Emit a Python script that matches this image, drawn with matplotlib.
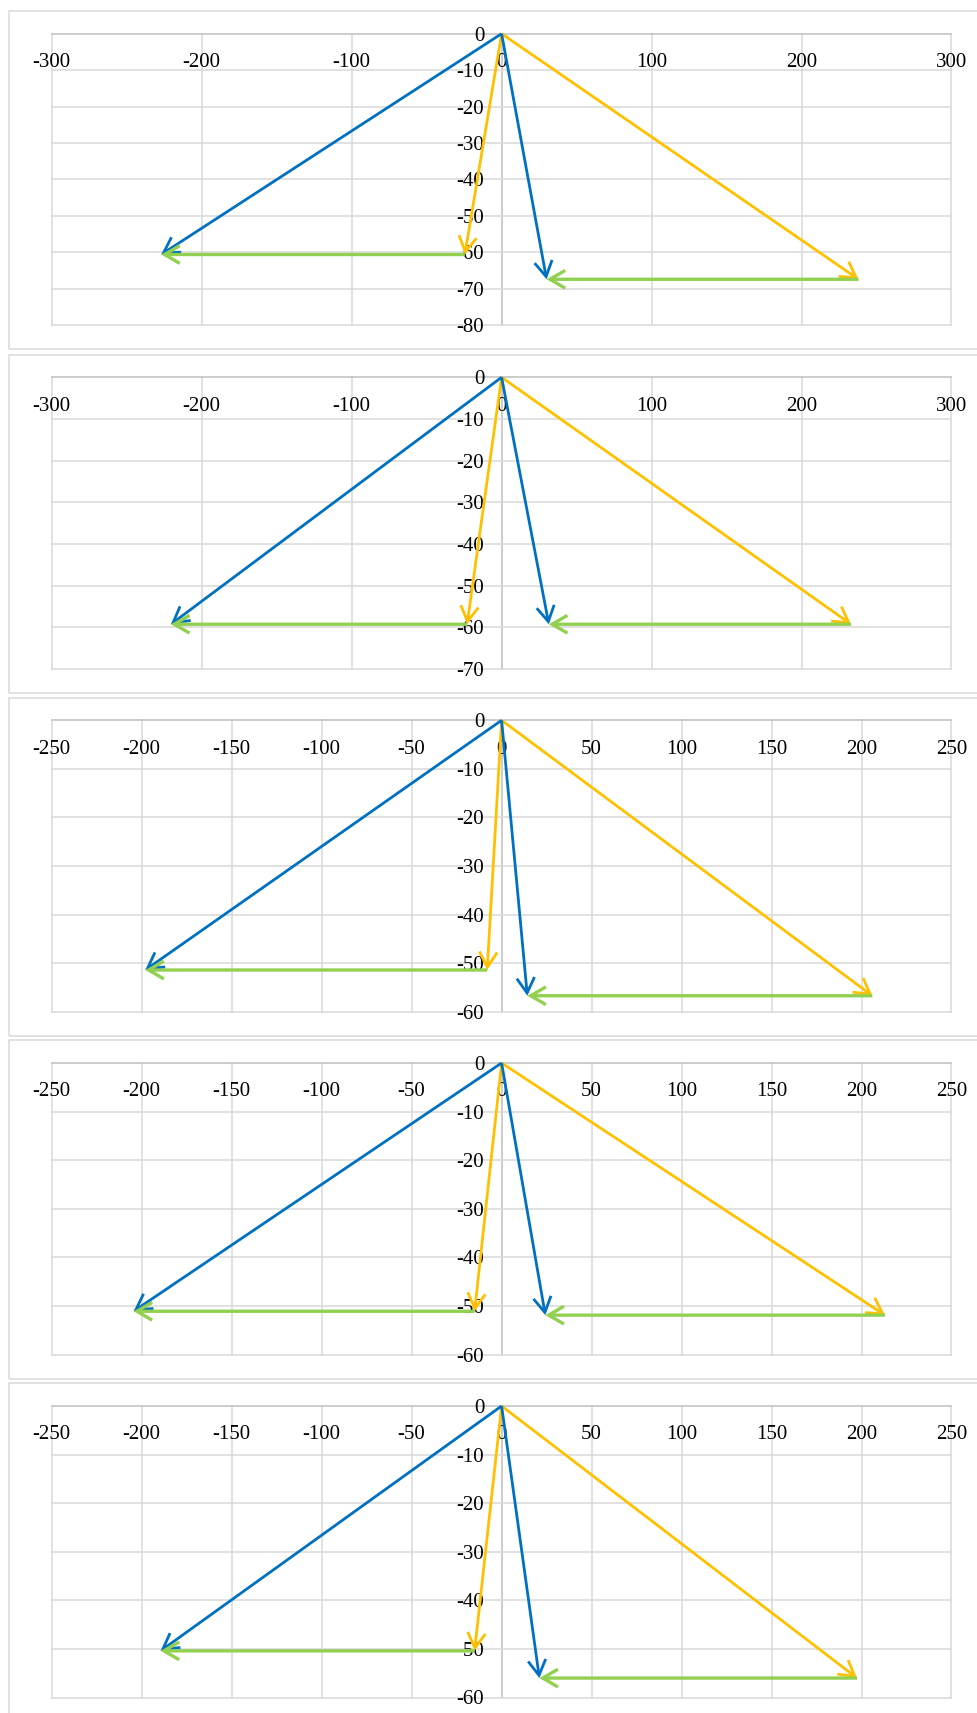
import matplotlib
matplotlib.use("Agg")
import matplotlib.pyplot as plt
from matplotlib.patches import Rectangle

# ---------------- data ----------------
xticks_a = [-300, -200, -100, 0, 100, 200, 300]
xticks_b = [-250, -200, -150, -100, -50, 0, 50, 100, 150, 200, 250]
yticks_1 = [0, -10, -20, -30, -40, -50, -60, -70, -80]
yticks_2 = [0, -10, -20, -30, -40, -50, -60, -70]
yticks_3 = [0, -10, -20, -30, -40, -50, -60]

panel_xticks = [xticks_a, xticks_a, xticks_b, xticks_b, xticks_b]
panel_yticks = [yticks_1, yticks_2, yticks_3, yticks_3, yticks_3]

# left pair of vectors (yellow from origin, green from yellow tip, blue = resultant)
yellow_left_x = [-24.5, -23.0, -8.0, -15.0, -15.0]
blue_left_x = [-227.0, -220.5, -198.0, -204.5, -189.5]
left_y = [-60.6, -59.3, -51.4, -51.1, -50.4]

# right pair of vectors
yellow_right_x = [238.0, 233.0, 206.0, 213.0, 197.5]
blue_right_x = [30.0, 31.5, 14.3, 24.3, 21.0]
right_y = [-67.4, -59.3, -56.7, -51.9, -56.0]

# ---------------- style ----------------
BLUE = "#0070C0"
YELLOW = "#FFC000"
GREEN = "#92D050"
GRID = "#D9D9D9"
AXIS = "#BFBFBF"
FONT = ["Liberation Serif", "DejaVu Serif"]

W, H = 978, 1713
fig = plt.figure(figsize=(W / 100, H / 100), dpi=100)
fig.patch.set_facecolor("white")

plot_tops = [33.7, 377.3, 720.3, 1063.0, 1406.0]
plot_h = 291.5
plot_left, plot_right = 51.7, 951.5


def arrow(ax, start, end, color, lw):
    ax.annotate(
        "", xy=end, xytext=start,
        arrowprops=dict(arrowstyle="->,head_length=0.55,head_width=0.32",
                        color=color, lw=lw, shrinkA=0, shrinkB=0,
                        mutation_scale=20, joinstyle="miter",
                        capstyle="butt"),
        zorder=2,
    )


for i in range(5):
    top = plot_tops[i]
    # chart frame
    ftop = top - 22.7
    fbot = top + plot_h + 24.0
    fig.add_artist(Rectangle((9 / W, 1 - fbot / H), (1000 - 9) / W, (fbot - ftop) / H,
                             transform=fig.transFigure, facecolor="none",
                             edgecolor=GRID, lw=1.1, clip_on=False))

    ax = fig.add_axes([plot_left / W, 1 - (top + plot_h) / H,
                       (plot_right - plot_left) / W, plot_h / H])
    xt = panel_xticks[i]
    yt = panel_yticks[i]
    ax.set_xlim(xt[0], xt[-1])
    ax.set_ylim(yt[-1], yt[0])
    ax.patch.set_alpha(0)

    for x in xt:
        ax.axvline(x, color=AXIS if x == 0 else GRID, lw=1.1, zorder=1, clip_on=False)
    for y in yt:
        ax.axhline(y, color=AXIS if y == 0 else GRID, lw=1.1, zorder=1, clip_on=False)

    for s in ax.spines.values():
        s.set_visible(False)
    ax.spines["bottom"].set_position(("data", 0))
    ax.spines["left"].set_position(("data", 0))

    ax.set_xticks(xt)
    ax.set_xticklabels([str(v) for v in xt])
    ax.set_yticks(yt)
    ax.set_yticklabels([str(v) for v in yt])
    ax.tick_params(axis="x", length=0, pad=14.0, labelsize=15, colors="black")
    ax.tick_params(axis="y", length=0, pad=12.5, labelsize=15, colors="black")
    for lab in ax.get_xticklabels() + ax.get_yticklabels():
        lab.set_family(FONT)

    # vectors
    arrow(ax, (0, 0), (yellow_left_x[i], left_y[i]), YELLOW, 2.0)
    arrow(ax, (0, 0), (yellow_right_x[i], right_y[i]), YELLOW, 2.0)
    arrow(ax, (0, 0), (blue_left_x[i], left_y[i]), BLUE, 2.0)
    arrow(ax, (0, 0), (blue_right_x[i], right_y[i]), BLUE, 2.0)
    arrow(ax, (yellow_left_x[i], left_y[i]), (blue_left_x[i], left_y[i]), GREEN, 2.4)
    arrow(ax, (yellow_right_x[i], right_y[i]), (blue_right_x[i], right_y[i]), GREEN, 2.4)

fig.savefig("out.png", dpi=100, facecolor="white")
